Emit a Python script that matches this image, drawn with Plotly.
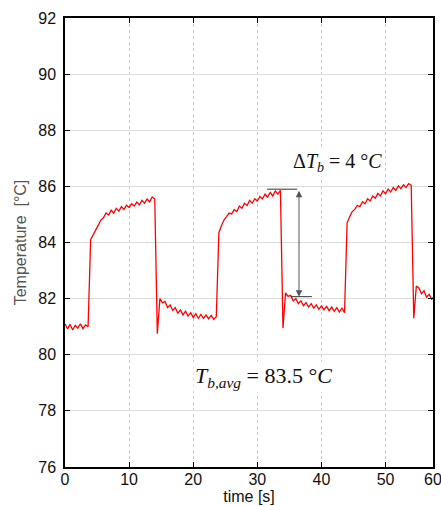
import numpy as np
import plotly.graph_objects as go

# sampled every 0.4 s
time_s = np.round(np.arange(0, 145) * 0.4, 1)
temp_c = [
    81.10, 80.92, 81.08, 80.88, 81.05, 80.95, 81.10, 80.93, 81.06, 81.00,
    84.10, 84.30, 84.45, 84.62, 84.80, 84.88, 85.05, 84.98, 85.15, 85.05,
    85.22, 85.12, 85.28, 85.18, 85.33, 85.25, 85.38, 85.30, 85.44, 85.34,
    85.50, 85.40, 85.55, 85.45, 85.62, 85.55, 80.75, 82.00, 81.85, 81.90,
    81.68, 81.78, 81.58, 81.68, 81.48, 81.60, 81.42, 81.55, 81.38, 81.50,
    81.33, 81.46, 81.30, 81.44, 81.30, 81.42, 81.28, 81.40, 81.26, 81.36,
    84.35, 84.60, 84.80, 84.92, 85.05, 85.02, 85.18, 85.10, 85.30, 85.22,
    85.40, 85.32, 85.50, 85.40, 85.56, 85.48, 85.64, 85.55, 85.72, 85.62,
    85.78, 85.66, 85.84, 85.72, 85.86, 80.95, 82.20, 82.08, 82.12, 81.92,
    82.00, 81.82, 81.92, 81.75, 81.86, 81.70, 81.82, 81.66, 81.78, 81.62,
    81.74, 81.60, 81.72, 81.57, 81.70, 81.55, 81.68, 81.52, 81.66, 81.50,
    84.70, 84.92, 85.10, 85.18, 85.32, 85.28, 85.45, 85.38, 85.56, 85.48,
    85.66, 85.58, 85.75, 85.66, 85.84, 85.74, 85.90, 85.80, 85.96, 85.86,
    86.02, 85.92, 86.06, 85.96, 86.10, 86.04, 81.30, 82.45, 82.38, 82.18,
    82.28, 82.05, 82.15, 81.98, 82.08,
]

x_ticks = [0, 10, 20, 30, 40, 50, 57.38]
x_labels = ["0", "10", "20", "30", "40", "50", "60"]
y_ticks = [76, 78, 80, 82, 84, 86, 88, 90, 92]

# delta-T marker
dt_x = 36.5
dt_top = 85.9
dt_bottom = 82.07

fig = go.Figure()
fig.add_trace(go.Scatter(
    x=time_s, y=temp_c, mode="lines",
    line=dict(color="#ff0000", width=1.3),
    showlegend=False, hoverinfo="skip",
))

# reference lines for the delta
fig.add_shape(type="line", x0=31.5, x1=36.2, y0=dt_top, y1=dt_top,
              line=dict(color="#333", width=1))
fig.add_shape(type="line", x0=35.2, x1=38.5, y0=dt_bottom, y1=dt_bottom,
              line=dict(color="#333", width=1))
fig.add_annotation(
    x=dt_x, y=dt_bottom, ax=dt_x, ay=dt_top, xref="x", yref="y", axref="x", ayref="y",
    text="", showarrow=True, arrowhead=2, arrowside="end+start",
    arrowsize=1.3, arrowwidth=1, arrowcolor="#555",
)

serif = "Liberation Serif, Times New Roman, serif"
fig.add_annotation(
    x=42.5, y=86.85, xref="x", yref="y", showarrow=False,
    text="Δ<i>T</i><sub><i>b</i></sub> = 4 °<i>C</i>",
    font=dict(family=serif, size=20, color="#111"), bgcolor="white",
)
fig.add_annotation(
    x=30.9, y=79.2, xref="x", yref="y", showarrow=False,
    text="<i>T</i><sub><i>b,avg</i></sub> = 83.5 °<i>C</i>",
    font=dict(family=serif, size=22, color="#111"), bgcolor="white",
)

sans = "Liberation Sans, Arial, sans-serif"
axis_font = dict(family=sans, size=16, color="#111")
fig.update_xaxes(
    range=[0, 57.4], tickvals=x_ticks, ticktext=x_labels, automargin=False,
    ticklabeloverflow="allow", ticklabelstandoff=-3,
    showline=True, linecolor="black", linewidth=1.5, mirror="ticks",
    ticks="inside", ticklen=5, tickcolor="black",
    showgrid=True, gridcolor="#c8c8c8", griddash="dot", gridwidth=1,
    zeroline=False, tickfont=axis_font,
    title=dict(text="time [s]", font=axis_font, standoff=2),
)
fig.update_yaxes(
    range=[76, 92], tickvals=y_ticks, automargin=False,
    showline=True, linecolor="black", linewidth=1.5, mirror="ticks",
    ticks="inside", ticklen=5, tickcolor="black",
    showgrid=True, gridcolor="#dcdcdc", gridwidth=1,
    zeroline=False, tickfont=axis_font, ticklabelstandoff=4,
    title=dict(text="Temperature  [°C]", font=dict(family=sans, size=16, color="#555"), standoff=8),
)
fig.update_layout(
    width=441, height=506,
    margin=dict(l=64.5, r=8.3, t=17.7, b=38.7),
    plot_bgcolor="white", paper_bgcolor="white",
)

fig.write_html("out.html", config={"displayModeBar": False},
               post_script="document.body.style.margin='0';")
